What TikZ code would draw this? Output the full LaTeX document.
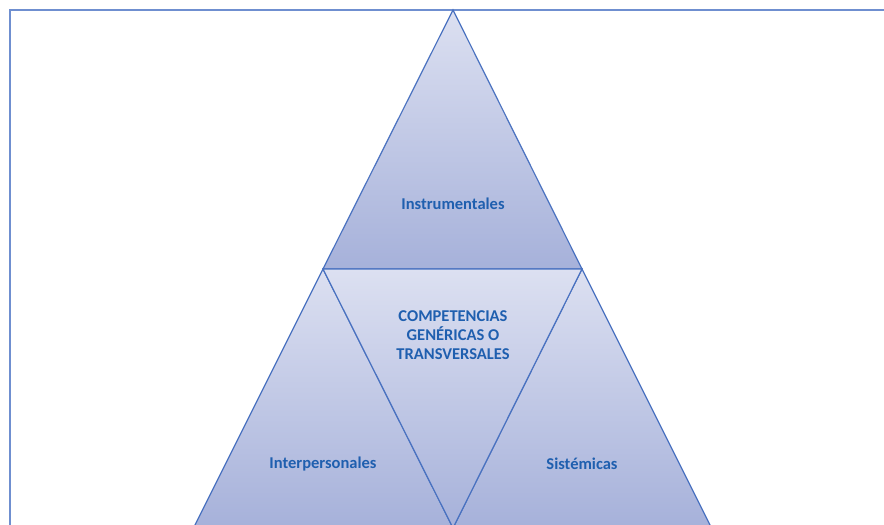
\documentclass[tikz,border=0pt]{standalone}
\usepackage{fontspec}
\setmainfont{Carlito}
\definecolor{edgeblue}{HTML}{4A72C0}
\definecolor{frameblue}{HTML}{6F8FD0}
\definecolor{txtblue}{HTML}{1F5FAF}
\definecolor{lightfill}{HTML}{DCE0F1}
\definecolor{darkfill}{HTML}{A6B1DA}
\tikzset{
  tri/.style={draw=edgeblue, line width=1.2pt, line join=miter, top color=lightfill, bottom color=darkfill},
  lbl/.style={text=txtblue, font=\bfseries\fontsize{16.5}{19}\selectfont, align=center}
}
\begin{document}
\begin{tikzpicture}[x=1pt,y=-1pt]
\useasboundingbox (0,0) rectangle (884,525);
\begin{scope}
\clip (0,0) rectangle (884,525);
\fill[white] (0,0) rectangle (884,525);
\draw[frameblue, line width=2pt] (9.5,10) rectangle (900,540);
% triangles
\coordinate (apex) at (453,10);
\coordinate (bl) at (323,269);
\coordinate (br) at (582,269);
\coordinate (bot) at (453,528);
\coordinate (ll) at (193.5,528);
\coordinate (rr) at (711.5,528);
\path[tri] (apex) -- (br) -- (bl) -- cycle;
\path[tri] (bl) -- (bot) -- (ll) -- cycle;
\path[tri] (br) -- (rr) -- (bot) -- cycle;
\path[tri] (bl) -- (br) -- (bot) -- cycle;
\end{scope}
\node[lbl] (instr) at (453,204) {Instrumentales};
\node[lbl] (comp) at (453,335) {COMPETENCIAS\\GENÉRICAS O\\TRANSVERSALES};
\node[lbl] (inter) at (323,464) {Interpersonales};
\node[lbl] (sist) at (582,464) {Sistémicas};
\end{tikzpicture}
\end{document}
